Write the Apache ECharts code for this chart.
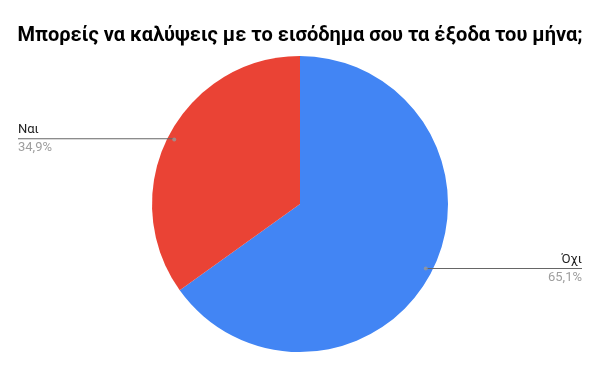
<!DOCTYPE html>
<html>
<head>
<meta charset="utf-8">
<script src="https://cdn.jsdelivr.net/npm/echarts@6/dist/echarts.min.js"></script>
<style>html,body{margin:0;padding:0;background:#fff}#c{width:600px;height:371px}</style>
</head>
<body>
<div id="c"></div>
<script>
const titleText = 'Μπορείς να καλύψεις με το εισόδημα σου τα έξοδα του μήνα;';
const categories = ['Όχι', 'Ναι'];
const values = [65.1, 34.9];
const colors = ['#4285F4', '#EA4335'];

const fmt = v => v.toFixed(1).replace('.', ',') + '%';
const data = categories.map((c, i) => ({ name: c, value: values[i], itemStyle: { color: colors[i] } }));
const total = values.reduce((a, b) => a + b, 0);
let acc = 0;
const dots = values.map(v => { const mid = acc + v / 2; acc += v; return [0.955, mid / total * 100]; });

const center = ['50%', '55%'];
const R = 148;

const chart = echarts.init(document.getElementById('c'), null, { renderer: 'canvas' });
chart.setOption({
  animation: false,
  title: {
    text: titleText, left: 'center', top: 21,
    textStyle: { fontFamily: 'Roboto', fontWeight: 'bold', fontSize: 20, color: '#000' }
  },
  polar: { center: center, radius: R },
  radiusAxis: { min: 0, max: 1, show: false },
  angleAxis: { min: 0, max: 100, startAngle: 90, clockwise: true, show: false },
  series: [
    {
      type: 'pie', center: center, radius: R, startAngle: 90, clockwise: true,
      data: data, label: { show: false }, labelLine: { show: false }, silent: true
    },
    {
      type: 'pie', center: center, radius: Math.round(R * 0.96), startAngle: 90, clockwise: true,
      silent: true, avoidLabelOverlap: false,
      data: categories.map((c, i) => ({ name: c, value: values[i] })),
      itemStyle: { color: 'rgba(0,0,0,0)' },
      labelLine: { show: false, length: 0, length2: 0 },
      label: {
        show: true, position: 'outside', alignTo: 'edge', edgeDistance: 18, width: 156, overflow: 'none',
        formatter: p => '{n|' + p.name + '}\n{l| }\n{p|' + fmt(p.value) + '}',
        rich: {
          n: { fontFamily: 'Roboto', fontSize: 13, color: '#222', lineHeight: 17 },
          l: { width: 156, height: 1, lineHeight: 1, fontSize: 1, backgroundColor: '#666' },
          p: { fontFamily: 'Roboto', fontSize: 13, color: '#9e9e9e', lineHeight: 18 }
        }
      }
    },
    {
      type: 'scatter', coordinateSystem: 'polar', data: dots, symbol: 'circle', symbolSize: 4,
      itemStyle: { color: '#999' }, silent: true, z: 5
    }
  ]
});
</script>
</body>
</html>
